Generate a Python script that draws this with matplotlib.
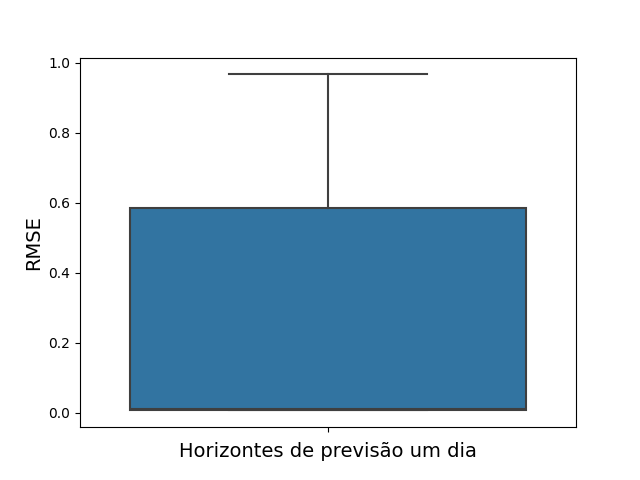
import matplotlib
matplotlib.use("Agg")
import matplotlib.pyplot as plt

# RMSE values, horizonte de um dia
rmse = [0.006, 0.006, 0.006, 0.008, 0.011, 0.40, 0.583, 0.80, 0.966]
label = "Horizontes de previsão um dia"

box_color = "#3274a1"
edge_color = "#3f3f3f"

fig, ax = plt.subplots(figsize=(6.4, 4.8), dpi=100)

bp = ax.boxplot([rmse], positions=[0], widths=0.8, capwidths=0.4,
                patch_artist=True, showfliers=False)
for box in bp["boxes"]:
    box.set_facecolor(box_color)
    box.set_edgecolor(edge_color)
    box.set_linewidth(1.5)
for key in ["whiskers", "caps", "medians"]:
    for line in bp[key]:
        line.set_color(edge_color)
        line.set_linewidth(1.5)

ax.set_xlim(-0.5, 0.5)
ax.set_xticks([0])
ax.set_xticklabels([""])
ax.set_xlabel(label, fontsize=14)
ax.set_ylabel("RMSE", fontsize=14)

fig.savefig("out.png", dpi=100)
